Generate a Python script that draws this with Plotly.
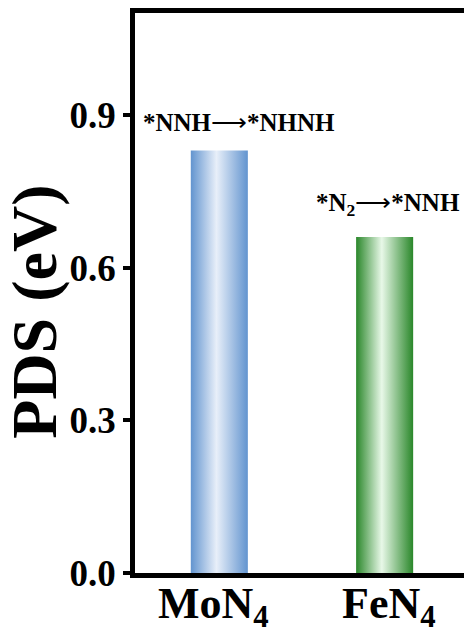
import plotly.graph_objects as go

# Potential-determining step energies
categories = ["MoN<sub>4</sub>", "FeN<sub>4</sub>"]
pds_values = [0.83, 0.66]
step_from = ["*NNH", "*N<sub>2</sub>"]
step_to = ["*NHNH", "*NNH"]
y_ticks = [0.0, 0.3, 0.6, 0.9]
y_ticktext = ["0.0", "0.3", "0.6", "0.9"]

edge_colors = ["rgb(98,148,207)", "rgb(42,135,42)"]
center_colors = ["rgb(232,239,249)", "rgb(232,248,232)"]

BAR_W = 0.345
FONT = "Liberation Serif, Times New Roman, serif"
L, R, T, B = 135, 0, 13, 60.5
PW = 464 - L - R

fig = go.Figure()

for i, (v, ec, cc) in enumerate(zip(pds_values, edge_colors, center_colors)):
    x0, x1 = i - BAR_W / 2, i + BAR_W / 2
    fig.add_trace(go.Scatter(
        x=[x0, x0, x1, x1, x0],
        y=[0, v, v, 0, 0],
        mode="lines",
        line=dict(width=0),
        fill="toself",
        fillgradient=dict(
            type="horizontal",
            colorscale=[[0, ec], [0.45, cc], [1, ec]],
        ),
        hoverinfo="skip",
        showlegend=False,
    ))

# Step labels above each bar
shifts = [(20, 28), (3, 33)]
for i, (v, a, b) in enumerate(zip(pds_values, step_from, step_to)):
    fig.add_annotation(
        x=i, y=v, xref="x", yref="y",
        text=f"<b>{a}</b>⟶<b>{b}</b>",
        showarrow=False,
        xanchor="center", yanchor="middle",
        xshift=shifts[i][0], yshift=shifts[i][1],
        font=dict(family=FONT, size=25, color="black"),
    )

# Category labels under the axis
cat_shifts = [-6, 4]
for i, c in enumerate(categories):
    fig.add_annotation(
        x=i, y=0, xref="x", yref="paper",
        text=f"<b>{c}</b>",
        showarrow=False,
        xanchor="center", yanchor="top",
        xshift=cat_shifts[i], yshift=-4,
        font=dict(family=FONT, size=44, color="black"),
    )

# Y-axis title
fig.add_annotation(
    x=(35 - L) / PW, y=0.4666, xref="paper", yref="paper",
    text="<b>PDS (eV)</b>",
    textangle=-90,
    showarrow=False,
    xanchor="center", yanchor="middle",
    font=dict(family=FONT, size=64, color="black"),
)

fig.update_layout(
    width=464, height=634,
    margin=dict(l=L, r=R, t=T, b=B, autoexpand=False),
    paper_bgcolor="white", plot_bgcolor="white",
    font=dict(family=FONT, color="black"),
    xaxis=dict(
        range=[-0.51, 1.48],
        showticklabels=False,
        showgrid=False, zeroline=False,
        showline=True, linecolor="black", linewidth=4.5,
        mirror=True,
        ticks="",
        automargin=False,
    ),
    yaxis=dict(
        range=[0, 1.1],
        tickmode="array",
        tickvals=y_ticks,
        ticktext=[f"<b>{t}</b>" for t in y_ticktext],
        tickfont=dict(family=FONT, size=37, color="black"),
        showgrid=False, zeroline=False,
        showline=True, linecolor="black", linewidth=4.5,
        mirror=False,
        ticks="outside", ticklen=7, tickwidth=4, tickcolor="black",
        automargin=False,
    ),
)

fig.write_html("out.html")
